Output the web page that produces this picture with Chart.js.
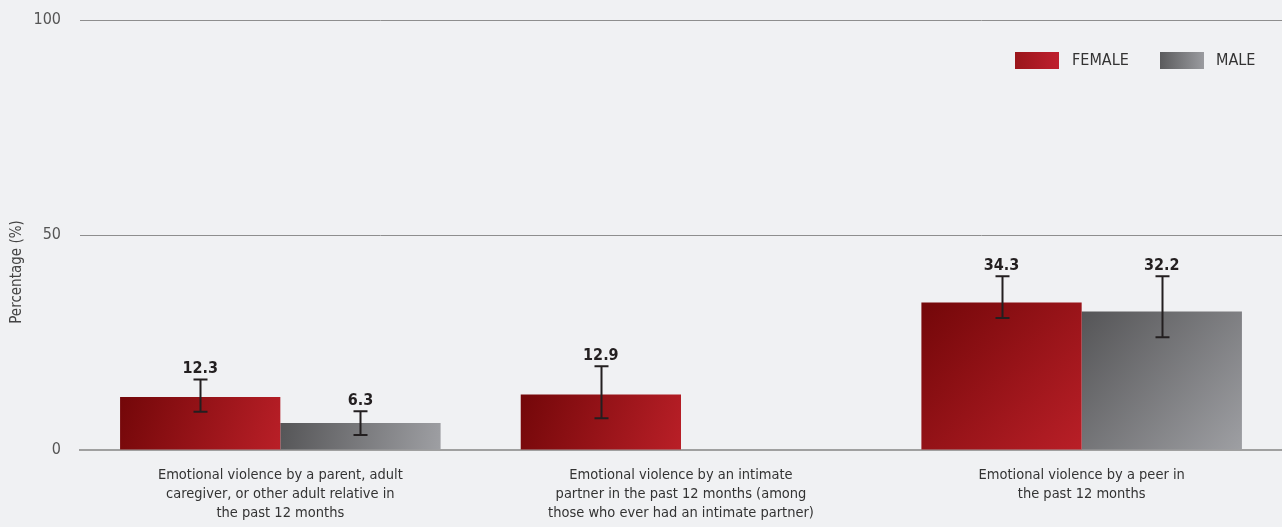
<!DOCTYPE html>
<html>
<head>
<meta charset="utf-8">
<script src="https://cdn.jsdelivr.net/npm/chart.js@4.4.1/dist/chart.umd.min.js"></script>
<style>
  html, body { margin: 0; padding: 0; background: #f0f1f3; }
  #wrap { width: 1282px; height: 527px; }
</style>
</head>
<body>
<div id="wrap"><canvas id="c" width="1282" height="527"></canvas></div>
<script>
const categories = [
  ["Emotional violence by a parent, adult", "caregiver, or other adult relative in", "the past 12 months"],
  ["Emotional violence by an intimate", "partner in the past 12 months (among", "those who ever had an intimate partner)"],
  ["Emotional violence by a peer in", "the past 12 months"]
];
const seriesNames = ["FEMALE", "MALE"];
const femaleValues = [12.3, 12.9, 34.3];
const maleValues = [6.3, null, 32.2];
const femaleLow = [8.9, 7.4, 30.7];
const femaleHigh = [16.4, 19.5, 40.4];
const maleLow = [3.5, null, 26.2];
const maleHigh = [9.0, null, 40.4];
const yTicks = [0, 50, 100];
const yTitle = "Percentage (%)";

const FONT = "'Liberation Sans Narrow', 'DejaVu Sans Condensed', 'Roboto', sans-serif";
const barGrad = [["#730709", "#b91f27"], ["#555557", "#9e9fa3"]];
const legendGrad = [["#9a161b", "#bf1f2e"], ["#5b5b5d", "#9a9b9f"]];
const lows = [femaleLow, maleLow];
const highs = [femaleHigh, maleHigh];

const gradientPlugin = {
  id: 'gradients',
  beforeDatasetsDraw(chart) {
    const ctx = chart.ctx;
    chart.data.datasets.forEach((ds, di) => {
      const meta = chart.getDatasetMeta(di);
      meta.data.forEach((bar) => {
        if (bar.x == null || isNaN(bar.y)) return;
        const w = bar.width;
        const g = ctx.createLinearGradient(bar.x - w / 2, bar.y, bar.x + w / 2, bar.base);
        g.addColorStop(0, barGrad[di][0]);
        g.addColorStop(1, barGrad[di][1]);
        bar.options = Object.assign({}, bar.options, { backgroundColor: g });
      });
    });
  }
};

const errorPlugin = {
  id: 'errors',
  afterDatasetsDraw(chart) {
    const ctx = chart.ctx;
    const ys = chart.scales.y;
    ctx.save();
    chart.data.datasets.forEach((ds, di) => {
      const meta = chart.getDatasetMeta(di);
      meta.data.forEach((bar, i) => {
        const v = ds.data[i];
        if (v == null) return;
        const lo = lows[di][i], hi = highs[di][i];
        const yl = ys.getPixelForValue(lo), yh = ys.getPixelForValue(hi);
        const x = Math.round(bar.x) + 0.5;
        ctx.strokeStyle = "#231f20";
        ctx.lineWidth = 2;
        ctx.beginPath();
        ctx.moveTo(x, yl); ctx.lineTo(x, yh);
        ctx.moveTo(x - 7, yl); ctx.lineTo(x + 7, yl);
        ctx.moveTo(x - 7, yh); ctx.lineTo(x + 7, yh);
        ctx.stroke();
        ctx.fillStyle = "#231f20";
        ctx.font = "bold 16px " + FONT;
        ctx.textAlign = "center";
        ctx.textBaseline = "alphabetic";
        ctx.fillText(v.toFixed(1), bar.x, yh - 6);
      });
    });
    ctx.restore();
  }
};

const legendPlugin = {
  id: 'customLegend',
  afterDraw(chart) {
    const ctx = chart.ctx;
    ctx.save();
    const items = [{ x: 1015, tx: 1072 }, { x: 1160, tx: 1216 }];
    chart.data.datasets.forEach((ds, di) => {
      const it = items[di];
      const g = ctx.createLinearGradient(it.x, 0, it.x + 44, 0);
      g.addColorStop(0, legendGrad[di][0]);
      g.addColorStop(1, legendGrad[di][1]);
      ctx.fillStyle = g;
      ctx.fillRect(it.x, 52, 44, 17);
      ctx.fillStyle = "#333333";
      ctx.font = "16px " + FONT;
      ctx.textAlign = "left";
      ctx.textBaseline = "middle";
      ctx.fillText(ds.label, it.tx, 61);
    });
    // y-axis title
    ctx.translate(17, 272);
    ctx.rotate(-Math.PI / 2);
    ctx.fillStyle = "#444444";
    ctx.font = "15px " + FONT;
    ctx.textAlign = "center";
    ctx.textBaseline = "middle";
    ctx.fillText(yTitle, 0, 0);
    ctx.restore();
  }
};

new Chart(document.getElementById('c'), {
  type: 'bar',
  data: {
    labels: categories,
    datasets: [
      { label: seriesNames[0], data: femaleValues, backgroundColor: barGrad[0][1] },
      { label: seriesNames[1], data: maleValues, backgroundColor: barGrad[1][1] }
    ]
  },
  options: {
    responsive: false,
    animation: false,
    events: [],
    categoryPercentage: 0.8,
    barPercentage: 1.0,
    layout: { padding: { top: 20, right: 0, left: 0, bottom: 0 } },
    plugins: {
      legend: { display: false },
      tooltip: { enabled: false }
    },
    scales: {
      x: {
        grid: { display: false, drawTicks: false },
        border: { display: true, color: "#a0a0a0", width: 2 },
        ticks: {
          color: "#333333",
          font: { family: FONT, size: 14.5, lineHeight: 1.3 },
          padding: 16,
          maxRotation: 0,
          autoSkip: false
        },
        afterFit(s) { s.height = 77; s.paddingLeft = 0; s.paddingRight = 0; }
      },
      y: {
        min: 0, max: 100,
        afterBuildTicks(s) { s.ticks = yTicks.map(v => ({ value: v })); },
        grid: { color: "#8e8e8e", lineWidth: 1, drawTicks: false },
        border: { display: false },
        ticks: {
          color: "#555555",
          font: { family: FONT, size: 16 },
          padding: 19
        },
        afterFit(s) { s.width = 80; s.paddingTop = 0; s.paddingBottom = 0; }
      }
    }
  },
  plugins: [gradientPlugin, errorPlugin, legendPlugin]
});
</script>
</body>
</html>
